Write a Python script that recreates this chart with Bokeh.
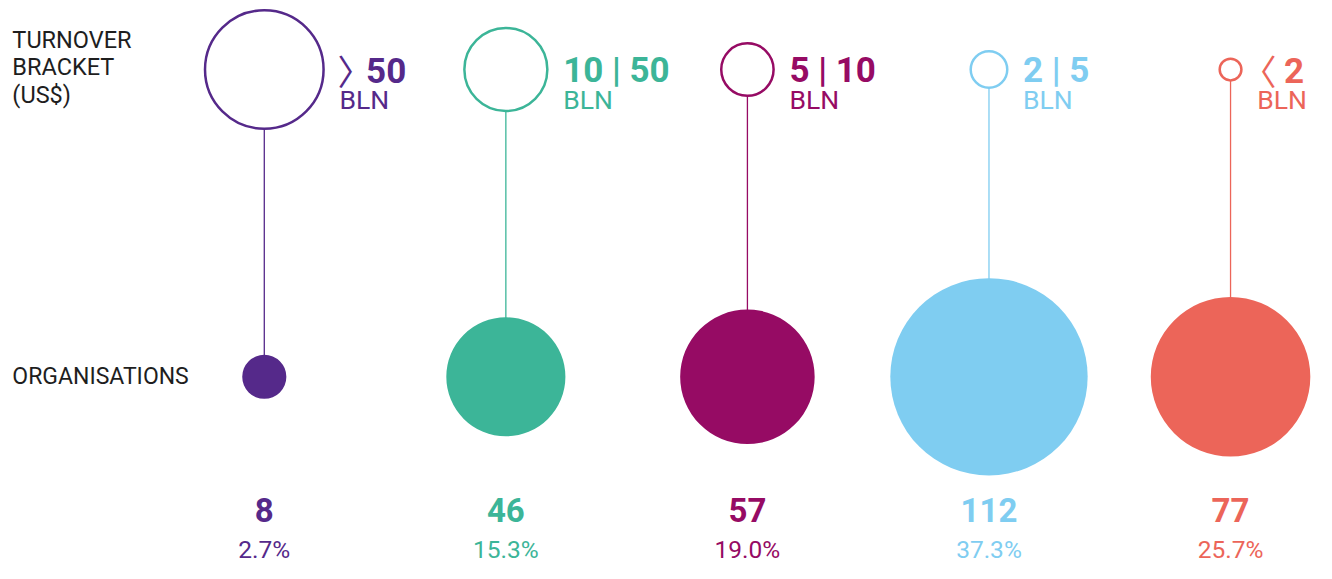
from bokeh.plotting import figure
from bokeh.models import Range1d
from bokeh.core.properties import value
from bokeh.embed import file_html
from bokeh.resources import INLINE

# ---------------- data ----------------
brackets = ["> 50", "10 | 50", "5 | 10", "2 | 5", "< 2"]
bracket_unit = "BLN"
organisations = [8, 46, 57, 112, 77]
shares = [2.7, 15.3, 19.0, 37.3, 25.7]
title_lines = ["TURNOVER", "BRACKET", "(US$)"]
row_label = "ORGANISATIONS"

# ---------------- style ----------------
colors = ["#55298a", "#3cb598", "#960b64", "#7fcdf1", "#ec6559"]
bracket_marker_r = [60, 42, 26.5, 18.5, 11]
FONT = value("Roboto")
CHEV_FONT = value("Noto Sans CJK SC")
INK = "#1e1e1e"

W, H = 1316, 563          # canvas size
VW, VH = 1332, 579        # design space (reference pixels)
SY = H / VH
COL_X0, COL_DX = 267, 244.5
TOP_Y, BOT_Y = 71, 387
n = len(brackets)
xs = [COL_X0 + i * COL_DX for i in range(n)]


def base(y, fs):
    """design-space baseline -> y anchor, compensating the text box offset"""
    return y - 0.38 * fs / SY


# bubble radius scale (power scale on organisation count)
def bubble_r(v):
    return 6.86 * v ** 0.5676

bot_r = [bubble_r(v) for v in organisations]

p = figure(width=W, height=H, x_range=Range1d(0, VW), y_range=Range1d(VH, 0),
           output_backend="svg", toolbar_location=None, min_border=0,
           x_axis_type=None, y_axis_type=None)
p.grid.visible = False
p.outline_line_color = None
p.background_fill_color = "white"
p.border_fill_color = "white"

# connecting stems
p.segment(x0=xs, y0=[TOP_Y + r for r in bracket_marker_r], x1=xs,
          y1=[BOT_Y - r for r in bot_r], line_color=colors, line_width=1.3)

# bracket circles (outline)
p.circle(x=xs, y=[TOP_Y] * n, radius=bracket_marker_r, fill_color="white",
         line_color=colors, line_width=2.5)

# organisation bubbles
p.circle(x=xs, y=[BOT_Y] * n, radius=bot_r, fill_color=colors, line_color=None)

# left labels
fs = 23.5
p.text(x=[12] * len(title_lines), y=[base(50 + 28 * i, fs) for i in range(len(title_lines))],
       text=title_lines, text_font=FONT, text_font_size=f"{fs}px", text_color=INK,
       text_baseline="alphabetic", text_align="left")
fs = 23
p.text(x=[12], y=[base(396, fs)], text=[row_label], text_font=FONT, text_font_size=f"{fs}px",
       text_color=INK, text_baseline="alphabetic", text_align="left")

# bracket labels
for i, lab in enumerate(brackets):
    lx = xs[i] + bracket_marker_r[i] + 16
    num = lab
    if lab[0] in "<>":
        chev = "\u3009" if lab[0] == ">" else "\u3008"
        cx = lx - 2 if lab[0] == ">" else lx - 16
        p.text(x=[cx], y=[base(85, 35)], text=[chev], text_font=CHEV_FONT,
               text_font_size="35px", text_color=colors[i],
               text_baseline="alphabetic", text_align="left")
        num = lab[1:].strip()
        nx = lx + 27
    else:
        nx = lx
    p.text(x=[nx], y=[base(86, 35)], text=[num], text_font=FONT, text_font_size="35px",
           text_font_style="bold", text_color=colors[i], text_baseline="alphabetic",
           text_align="left")
    p.text(x=[lx], y=[base(112, 26.5)], text=[bracket_unit], text_font=FONT,
           text_font_size="26.5px", text_color=colors[i],
           text_baseline="alphabetic", text_align="left")

# counts and shares
p.text(x=xs, y=[base(537, 33)] * n, text=[str(v) for v in organisations], text_font=FONT,
       text_font_size="33px", text_font_style="bold", text_color=colors,
       text_baseline="alphabetic", text_align="center")
p.text(x=xs, y=[base(574, 24.5)] * n, text=[f"{s:.1f}%" for s in shares], text_font=FONT,
       text_font_size="24.5px", text_color=colors, text_baseline="alphabetic",
       text_align="center")

open("out.html", "w").write(file_html(p, INLINE))
